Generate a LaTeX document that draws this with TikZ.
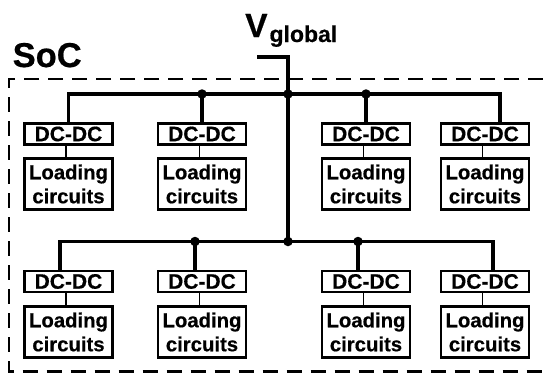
\documentclass[tikz,border=0pt]{standalone}
\usepackage{fontspec}
\setmainfont[BoldFeatures={FakeBold=0.5}]{Liberation Sans}
\begin{document}
\begin{tikzpicture}[x=1pt,y=-1pt,
  dcbox/.style={draw,line width=2.9pt,minimum width=88pt,minimum height=21pt,inner sep=0pt,
    font=\fontsize{21}{24}\selectfont\bfseries},
  ldbox/.style={draw,line width=2.9pt,minimum width=88pt,minimum height=51pt,inner sep=0pt,align=center,
    font=\fontsize{20.3}{24}\selectfont\bfseries},
  bus/.style={line width=3.7pt},
  link/.style={line width=1.7pt},
  junc/.style={circle,fill=black,inner sep=0pt,minimum size=9.5pt},
  socborder/.style={line width=2.5pt,dash pattern=on 15pt off 9pt}]
\useasboundingbox (0,0) rectangle (543,373);
% SoC border (right side lies outside the picture)
\draw[socborder] (543,79) -- (9,79) -- (9,371.5) -- (543,371.5);
% labels
\node[anchor=base west,inner sep=0pt,font=\fontsize{34.5}{34}\selectfont\bfseries] (soc) at (12.5,67) {SoC};
\node[anchor=base west,inner sep=0pt,font=\fontsize{33.5}{34}\selectfont\bfseries] (vg) at (245,37)
  {V\kern2pt\raisebox{-5pt}{\fontsize{23}{23}\selectfont global}};
% boxes, top row
\node[dcbox] (dcA) at (68.5,134) {DC-DC};
\node[dcbox] (dcB) at (202,134) {DC-DC};
\node[dcbox] (dcC) at (366,134) {DC-DC};
\node[dcbox] (dcD) at (485,134) {DC-DC};
\node[ldbox] (ldA) at (68.5,184) {Loading\\circuits};
\node[ldbox] (ldB) at (202,184) {Loading\\circuits};
\node[ldbox] (ldC) at (366,184) {Loading\\circuits};
\node[ldbox] (ldD) at (485,184) {Loading\\circuits};
% boxes, bottom row
\node[dcbox] (dcE) at (68.5,281.5) {DC-DC};
\node[dcbox] (dcF) at (202,281.5) {DC-DC};
\node[dcbox] (dcG) at (366,281.5) {DC-DC};
\node[dcbox] (dcH) at (485,281.5) {DC-DC};
\node[ldbox] (ldE) at (68.5,332) {Loading\\circuits};
\node[ldbox] (ldF) at (202,332) {Loading\\circuits};
\node[ldbox] (ldG) at (366,332) {Loading\\circuits};
\node[ldbox] (ldH) at (485,332) {Loading\\circuits};
% coordinates
\coordinate (vl) at (257,57);
\coordinate (vc) at (288,57);
\coordinate (tR) at (500,94);
\coordinate (bR) at (493,241.5);
\node[junc] (jB) at (202,94) {};
\node[junc] (jM1) at (288,94) {};
\node[junc] (jC) at (366,94) {};
\node[junc] (jF) at (195,241.5) {};
\node[junc] (jM2) at (288,241.5) {};
\node[junc] (jG) at (358,241.5) {};
% supply
\draw[bus] (vl) -- (vc) -- (jM2.center);
% top bus
\draw[bus] (dcA.north) |- (tR) -- ([xshift=15pt]dcD.north);
\draw[bus] (jB.center) -- (dcB.north);
\draw[bus] (jC.center) -- (dcC.north);
% bottom bus
\draw[bus] ([xshift=-8.5pt]dcE.north) |- (bR) -- ([xshift=8pt]dcH.north);
\draw[bus] (jF.center) -- ([xshift=-7pt]dcF.north);
\draw[bus] (jG.center) -- ([xshift=-8pt]dcG.north);
% links DC-DC to loading
\foreach \a/\b in {dcA/ldA,dcB/ldB,dcC/ldC,dcD/ldD,dcE/ldE,dcF/ldF,dcG/ldG,dcH/ldH}
  \draw[link] ([xshift=-2.5pt]\a.south) -- ([xshift=-2.5pt]\b.north);
\end{tikzpicture}
\end{document}
